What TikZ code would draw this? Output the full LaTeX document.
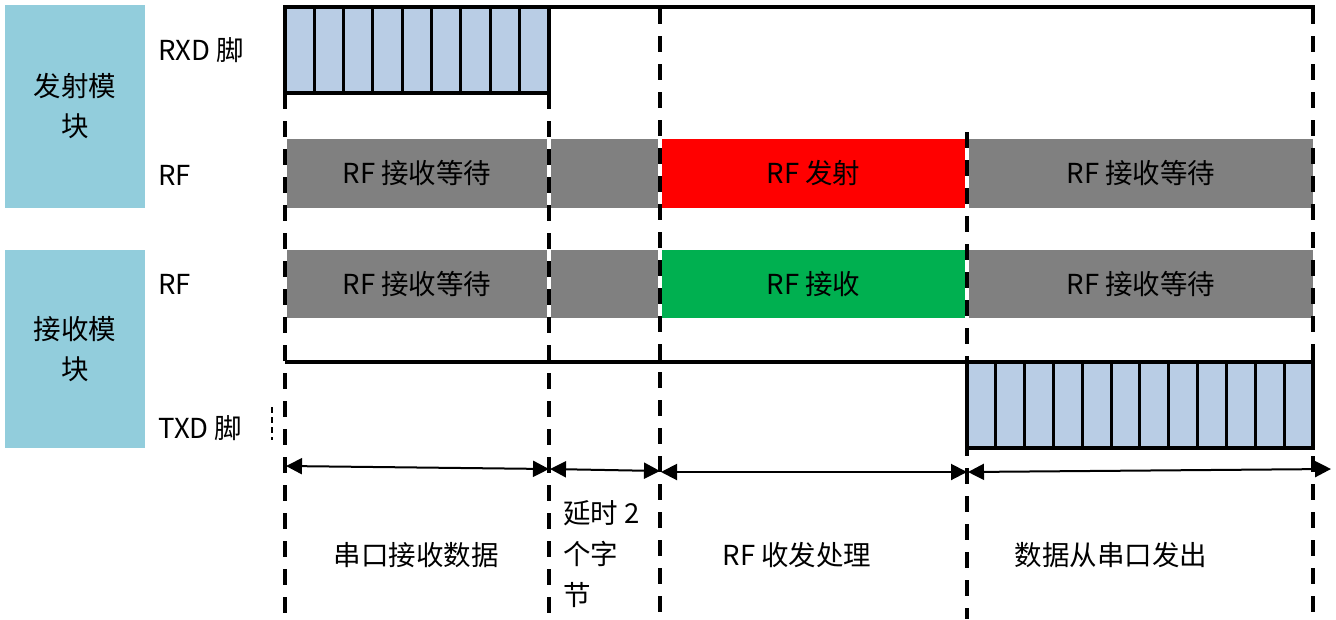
\documentclass[tikz,border=0pt]{standalone}
\usepackage{fontspec}
\setmainfont{Noto Sans CJK SC}
\usetikzlibrary{arrows.meta}
\definecolor{sideblue}{HTML}{92CDDC}
\definecolor{bitblue}{HTML}{B9CDE5}
\definecolor{rfgray}{HTML}{808080}
\definecolor{rfred}{HTML}{FF0000}
\definecolor{rfgreen}{HTML}{00B050}
\begin{document}
\begin{tikzpicture}[x=1pt,y=-1pt,
  txt/.style={font=\fontsize{27.5}{40}\selectfont, inner sep=0pt},
  sidebox/.style={fill=sideblue, draw=none, inner sep=0pt, outer sep=0pt, align=center, txt},
  rfbox/.style={draw=none, inner sep=0pt, outer sep=0pt, txt},
  rowlbl/.style={txt, anchor=west},
  frameline/.style={line width=4pt},
  bitline/.style={line width=3pt},
  timeline/.style={line width=3.6pt, dash pattern=on 16pt off 12pt},
  dimarrow/.style={line width=2pt, {Triangle[length=16pt,width=16pt]}-{Triangle[length=16pt,width=16pt]}}
]
\useasboundingbox (0,0) rectangle (1336,619);

% side boxes
\node (tx) [sidebox, minimum width=140pt, minimum height=203pt] at (75,106.5) {发射模\\块};
\node (rx) [sidebox, minimum width=140pt, minimum height=198pt] at (75,349) {接收模\\块};

% row labels
\node (lrxd) [rowlbl] at (158,50) {RXD 脚};
\node (lrf1) [rowlbl] at (158,175) {RF};
\node (lrf2) [rowlbl] at (158,284) {RF};
\node (ltxd) [rowlbl] at (158,428) {TXD 脚};

% RF row 1
\node (r1a) [rfbox, fill=rfgray, minimum width=260pt, minimum height=69pt] at (417,173.5) {RF 接收等待};
\node (r1b) [rfbox, fill=rfgray, minimum width=107pt, minimum height=69pt] at (604.5,173.5) {};
\node (r1c) [rfbox, fill=rfred, minimum width=303pt, minimum height=69pt] at (813.5,173.5) {RF 发射};
\node (r1d) [rfbox, fill=rfgray, minimum width=344pt, minimum height=69pt] at (1141,173.5) {RF 接收等待};

% RF row 2
\node (r2a) [rfbox, fill=rfgray, minimum width=260pt, minimum height=68pt] at (417,284) {RF 接收等待};
\node (r2b) [rfbox, fill=rfgray, minimum width=107pt, minimum height=68pt] at (604.5,284) {};
\node (r2c) [rfbox, fill=rfgreen, minimum width=303pt, minimum height=68pt] at (813.5,284) {RF 接收};
\node (r2d) [rfbox, fill=rfgray, minimum width=344pt, minimum height=68pt] at (1141,284) {RF 接收等待};

% RXD waveform
\draw[frameline] (285,7) -- (1315,7);
\node (rxdbits) [fill=bitblue, draw=none, inner sep=0pt, outer sep=0pt, minimum width=264pt, minimum height=86pt, anchor=north west] at (285,7) {};
\foreach \i in {1,...,8}
  \draw[bitline] (285+\i*29.33,7) -- (285+\i*29.33,93);
\draw[frameline] (rxdbits.north west) rectangle (rxdbits.south east);

% TXD waveform
\draw[frameline] (285,362) -- (1315,362);
\node (txdbits) [fill=bitblue, draw=none, inner sep=0pt, outer sep=0pt, minimum width=346pt, minimum height=86pt, anchor=north west] at (967,362) {};
\foreach \i in {1,...,11}
  \draw[bitline] (967+\i*28.83,362) -- (967+\i*28.83,448);
\draw[frameline] (txdbits.north west) rectangle (txdbits.south east);

% time division lines
\draw[timeline] (285,93) -- (285,619);
\draw[timeline] (549,93) -- (549,619);
\draw[timeline] (660,8) -- (660,619);
\draw[timeline] (967,132) -- (967,619);
\draw[timeline] (1313,8) -- (1313,619);
\draw[line width=1.6pt, dash pattern=on 6pt off 4pt] (272,407) -- (272,440);

% dimension arrows
\coordinate (a1l) at (286,466);
\coordinate (a1r) at (549,469);
\coordinate (a2l) at (550,469);
\coordinate (a2r) at (660,471);
\coordinate (a3l) at (661,472);
\coordinate (a3r) at (967,472);
\coordinate (a4l) at (968,472);
\coordinate (a4r) at (1331,469);
\draw[dimarrow] (a1l) -- (a1r);
\draw[dimarrow] (a2l) -- (a2r);
\draw[dimarrow] (a3l) -- (a3r);
\draw[dimarrow] (a4l) -- (a4r);

% phase labels
\node (p1) [txt] at (416,555) {串口接收数据};
\node (p2) [txt, align=left, anchor=north west, font=\fontsize{27.5}{41}\selectfont] at (563,500) {延时 2\\个字\\节};
\node (p3) [txt] at (797,555) {RF 收发处理};
\node (p4) [txt] at (1111,555) {数据从串口发出};
\end{tikzpicture}
\end{document}
